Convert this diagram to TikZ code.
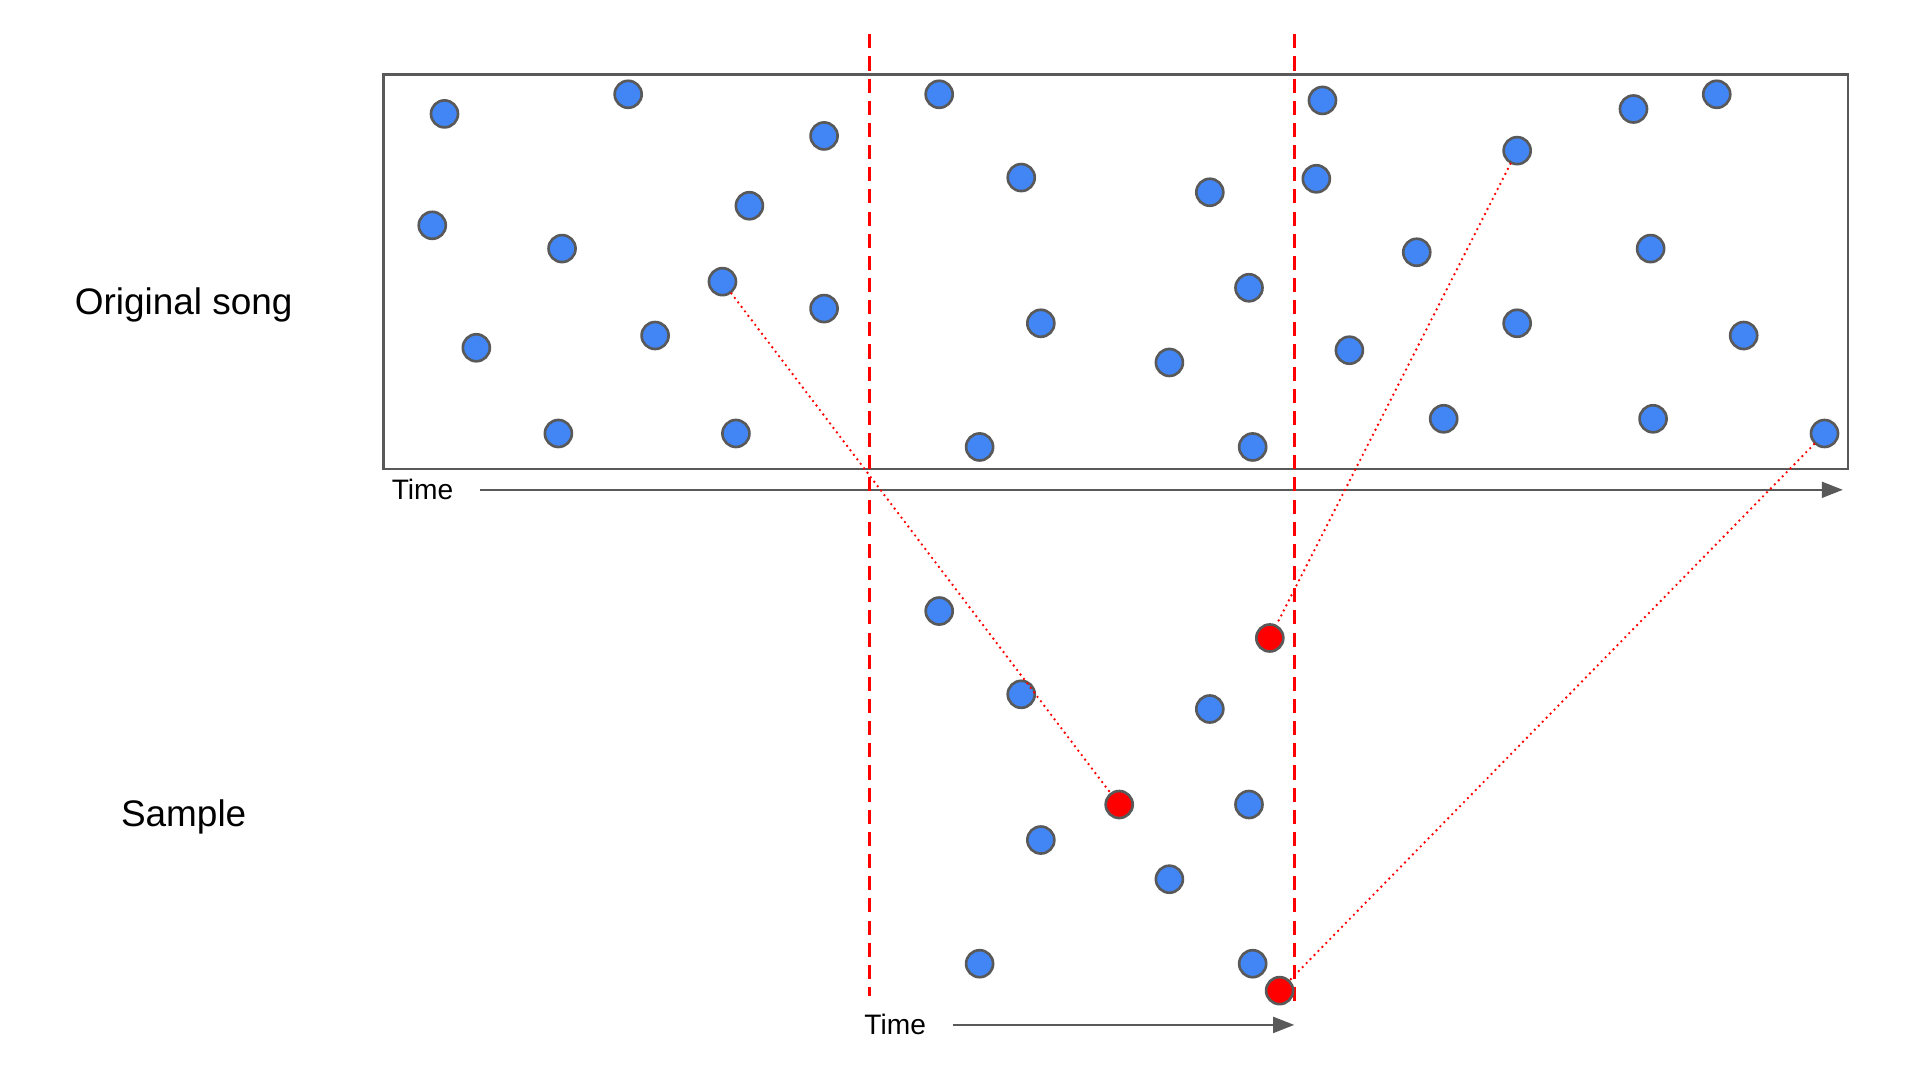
\documentclass[tikz,border=0pt]{standalone}
\usepackage{fontspec}
\setmainfont{Liberation Sans}
\usepackage{xcolor}
\usetikzlibrary{arrows.meta, positioning}
\definecolor{dotBlue}{RGB}{66, 133, 244}
\definecolor{edgeGray}{RGB}{89, 89, 89}
\definecolor{markRed}{RGB}{255, 0, 0}

\begin{document}
\begin{tikzpicture}[
        x=0.012245cm, y=-0.012245cm,
        node distance=0.26cm,
        dot/.style={circle, draw=edgeGray, fill=dotBlue, line width=0.75pt, minimum size=0.27cm, inner sep=0pt},
        hit/.style={dot, fill=markRed},
        lbl/.style={font=\fontsize{10.5}{12}\selectfont},
        timelbl/.style={font=\fontsize{8}{10}\selectfont, inner sep=0pt},
        axis/.style={draw=edgeGray, line width=0.7pt, -{Triangle[length=6pt, width=4.5pt]}},
        window/.style={draw=markRed, line width=0.7pt, dash pattern=on 4pt off 2.3pt},
        match/.style={draw=markRed, line width=0.75pt, line cap=round, dash pattern=on 0pt off 1.6pt}
    ]
        \useasboundingbox (0,0) rectangle (1568,882);

        % Row labels
        \node[lbl] (orig) at (150,249) {Original song};
        \node[lbl] (samp) at (150,667) {Sample};

        % Song frame and time axis
        \draw[draw=edgeGray, line width=0.7pt] (313,61) rectangle (1509,383);
        \coordinate (ta0) at (392,400);
        \coordinate (ta1) at (1505,400);
        \draw[axis] (ta0) -- (ta1);
        \node[timelbl, left=of ta0] (tt) {Time};

        % Sample window
        \coordinate (wl0) at (710,28);
        \coordinate (wl1) at (710,813);
        \coordinate (wr0) at (1057,28);
        \coordinate (wr1) at (1057,821);
        \draw[window] (wl0) -- (wl1);
        \draw[window] (wr0) -- (wr1);

        % Peaks of the original song
        \node[dot] (o1) at (363,93) {};
        \node[dot] (o2) at (513,77) {};
        \node[dot] (o3) at (673,111) {};
        \node[dot] (o4) at (767,77) {};
        \node[dot] (o5) at (1080,82) {};
        \node[dot] (o6) at (1334,89) {};
        \node[dot] (o7) at (1402,77) {};
        \node[dot] (o8) at (834,145) {};
        \node[dot] (o9) at (988,157) {};
        \node[dot] (o10) at (1075,146) {};
        \node[dot] (o11) at (1239,123) {};
        \node[dot] (o12) at (353,184) {};
        \node[dot] (o13) at (459,203) {};
        \node[dot] (o14) at (612,168) {};
        \node[dot] (o15) at (590,230) {};
        \node[dot] (o16) at (673,252) {};
        \node[dot] (o17) at (1157,206) {};
        \node[dot] (o18) at (1348,203) {};
        \node[dot] (o19) at (1020,235) {};
        \node[dot] (o20) at (389,284) {};
        \node[dot] (o21) at (535,274) {};
        \node[dot] (o22) at (850,264) {};
        \node[dot] (o23) at (955,296) {};
        \node[dot] (o24) at (1102,286) {};
        \node[dot] (o25) at (1239,264) {};
        \node[dot] (o26) at (1424,274) {};
        \node[dot] (o27) at (456,354) {};
        \node[dot] (o28) at (601,354) {};
        \node[dot] (o29) at (800,365) {};
        \node[dot] (o30) at (1023,365) {};
        \node[dot] (o31) at (1179,342) {};
        \node[dot] (o32) at (1350,342) {};
        \node[dot] (o33) at (1490,354) {};

        % Peaks of the sample
        \node[dot] (s1) at (767,499) {};
        \node[dot] (s2) at (834,567) {};
        \node[dot] (s3) at (988,579) {};
        \node[dot] (s4) at (1020,657) {};
        \node[dot] (s5) at (850,686) {};
        \node[dot] (s6) at (955,718) {};
        \node[dot] (s7) at (800,787) {};
        \node[dot] (s8) at (1023,787) {};
        \node[hit] (h1) at (914,657) {};
        \node[hit] (h2) at (1037,521) {};
        \node[hit] (h3) at (1045,809) {};

        % Sample time axis
        \coordinate (ba0) at (778,837);
        \coordinate (ba1) at (1057,837);
        \draw[axis] (ba0) -- (ba1);
        \node[timelbl, left=of ba0] (bt) {Time};

        % Matches
        \draw[match] (o15) -- (h1);
        \draw[match] (o11) -- (h2);
        \draw[match] (o33) -- (h3);
    \end{tikzpicture}
\end{document}
